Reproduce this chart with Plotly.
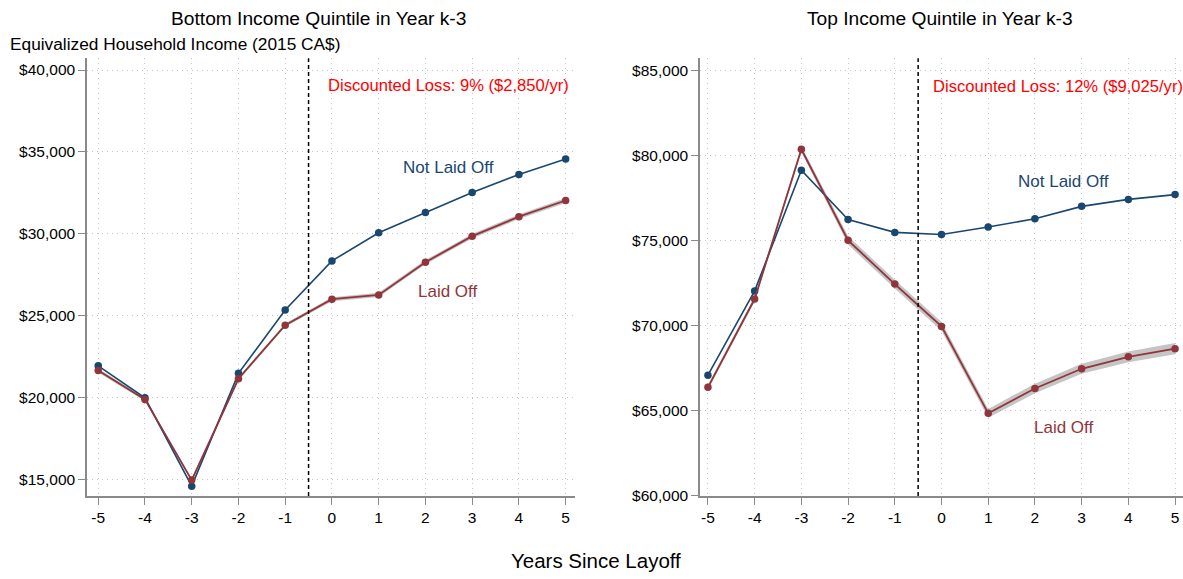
import plotly.graph_objects as go

# Event time relative to layoff
years = [-5, -4, -3, -2, -1, 0, 1, 2, 3, 4, 5]
year_labels = ["-5", "-4", "-3", "-2", "-1", "0", "1", "2", "3", "4", "5"]

# Bottom income quintile in year k-3
bottom_not_laid_off = [21930, 19980, 14580, 21470, 25340, 28340, 30060, 31300, 32520, 33620, 34560]
bottom_laid_off = [21640, 19880, 14950, 21140, 24410, 26000, 26260, 28260, 29850, 31040, 32030]
bottom_ci_half = [120, 100, 100, 100, 100, 120, 130, 130, 140, 140, 150]

# Top income quintile in year k-3
top_not_laid_off = [67080, 72040, 79140, 76240, 75480, 75360, 75800, 76280, 77010, 77420, 77700]
top_laid_off = [66370, 71560, 80370, 75010, 72440, 69950, 64840, 66300, 67460, 68160, 68640]
top_ci_half = [150, 150, 180, 250, 260, 260, 260, 280, 300, 320, 330]

bottom_ticks = [15000, 20000, 25000, 30000, 35000, 40000]
bottom_tick_text = ["$15,000", "$20,000", "$25,000", "$30,000", "$35,000", "$40,000"]
top_ticks = [60000, 65000, 70000, 75000, 80000, 85000]
top_tick_text = ["$60,000", "$65,000", "$70,000", "$75,000", "$80,000", "$85,000"]

bottom_note = "Discounted Loss: 9% ($2,850/yr)"
top_note = "Discounted Loss: 12% ($9,025/yr)"

BLUE = "#1a476f"
MAROON = "#90353b"
FONT = "Liberation Sans, Arial, sans-serif"

W, H = 1183, 579

fig = go.Figure()


def add_panel(xa, ya, not_laid, laid, ci):
    lo = [v - c for v, c in zip(laid, ci)]
    hi = [v + c for v, c in zip(laid, ci)]
    fig.add_trace(go.Scatter(
        x=years + years[::-1], y=hi + lo[::-1], fill="toself",
        fillcolor="rgba(150,150,150,0.55)", line=dict(width=0),
        hoverinfo="skip", showlegend=False, xaxis=xa, yaxis=ya))
    fig.add_trace(go.Scatter(
        x=years, y=not_laid, mode="lines+markers",
        line=dict(color=BLUE, width=1.6), marker=dict(color=BLUE, size=7.5),
        showlegend=False, xaxis=xa, yaxis=ya))
    fig.add_trace(go.Scatter(
        x=years, y=laid, mode="lines+markers",
        line=dict(color=MAROON, width=1.8), marker=dict(color=MAROON, size=7.5),
        showlegend=False, xaxis=xa, yaxis=ya))


add_panel("x", "y", bottom_not_laid_off, bottom_laid_off, bottom_ci_half)
add_panel("x2", "y2", top_not_laid_off, top_laid_off, top_ci_half)

ydom = [1 - 503 / H, 1 - 59 / H]

common_x = dict(
    tickmode="array", tickvals=years, ticktext=year_labels,
    showgrid=True, gridcolor="#c4c4c4", griddash="1px,4px", gridwidth=1,
    showline=True, linecolor="#8a8a8a", linewidth=1.5,
    ticks="outside", ticklen=7, tickcolor="#8a8a8a",
    tickfont=dict(family=FONT, size=15.5, color="black"),
    zeroline=False, range=[-5.24, 5.2],
)
common_y = dict(
    tickmode="array",
    showgrid=True, gridcolor="#c4c4c4", griddash="1px,4px", gridwidth=1,
    showline=True, linecolor="#8a8a8a", linewidth=1.5,
    ticks="outside", ticklen=7, tickcolor="#8a8a8a",
    tickfont=dict(family=FONT, size=15.5, color="black"),
    zeroline=False, domain=ydom,
)

fig.update_layout(
    width=W, height=H,
    margin=dict(l=0, r=0, t=0, b=0),
    paper_bgcolor="white", plot_bgcolor="white",
    font=dict(family=FONT, color="black"),
    xaxis=dict(common_x, domain=[87 / W, 575 / W], anchor="y"),
    yaxis=dict(common_y, tickvals=bottom_ticks, ticktext=bottom_tick_text,
               range=[13976, 40723], anchor="x"),
    xaxis2=dict(common_x, domain=[700 / W, 1.0], anchor="y2", range=[-5.17, 5.17]),
    yaxis2=dict(common_y, tickvals=top_ticks, ticktext=top_tick_text,
                range=[59976, 85723], anchor="x2"),
)

# Layoff timing marker between years -1 and 0
for xr, yr in (("x", "y domain"), ("x2", "y2 domain")):
    fig.add_shape(type="line", xref=xr, yref=yr, x0=-0.5, x1=-0.5, y0=0, y1=1,
                  line=dict(color="black", width=1.5, dash="4px,3px"))

annotations = [
    dict(text="Bottom Income Quintile in Year k-3", x=318 / W, y=1 - 19 / H, size=19.2),
    dict(text="Top Income Quintile in Year k-3", x=940 / W, y=1 - 19 / H, size=19.2),
    dict(text="Years Since Layoff", x=596 / W, y=1 - 568 / H, size=20.5),
]
for a in annotations:
    fig.add_annotation(text=a["text"], x=a["x"], y=a["y"], xref="paper", yref="paper",
                       showarrow=False, xanchor="center", yanchor="middle",
                       font=dict(family=FONT, size=a["size"], color="black"))

fig.add_annotation(text="Equivalized Household Income (2015 CA$)", x=8 / W, y=1 - 45 / H,
                   xref="paper", yref="paper", showarrow=False, xanchor="left", yanchor="middle",
                   font=dict(family=FONT, size=17.3, color="black"))

# In-panel labels
fig.add_annotation(text=bottom_note, x=-0.08, y=39040, xref="x", yref="y", showarrow=False,
                   xanchor="left", xshift=-2, font=dict(family=FONT, size=16.6, color="#ff0000"))
fig.add_annotation(text=top_note, x=-0.18, y=84040, xref="x2", yref="y2", showarrow=False,
                   xanchor="left", xshift=-2, font=dict(family=FONT, size=16.6, color="#ff0000"))
fig.add_annotation(text="Not Laid Off", x=2.49, y=34040, xref="x", yref="y", showarrow=False,
                   font=dict(family=FONT, size=17, color=BLUE))
fig.add_annotation(text="Laid Off", x=2.49, y=26500, xref="x", yref="y", showarrow=False,
                   font=dict(family=FONT, size=17, color=MAROON))
fig.add_annotation(text="Not Laid Off", x=2.62, y=78490, xref="x2", yref="y2", showarrow=False,
                   font=dict(family=FONT, size=17, color=BLUE))
fig.add_annotation(text="Laid Off", x=2.62, y=63980, xref="x2", yref="y2", showarrow=False,
                   font=dict(family=FONT, size=17, color=MAROON))

fig.write_html("out.html")
